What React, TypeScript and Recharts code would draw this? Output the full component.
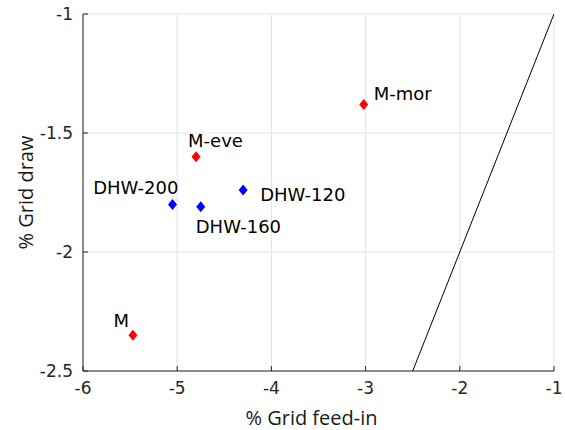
import { CartesianGrid, Scatter, ScatterChart, XAxis, YAxis } from "recharts"

// red series (M cases)
const redNames = ["M", "M-eve", "M-mor"]
const redFeedIn = [-5.47, -4.8, -3.02]
const redDraw = [-2.35, -1.6, -1.38]

// blue series (DHW cases)
const blueNames = ["DHW-200", "DHW-160", "DHW-120"]
const blueFeedIn = [-5.05, -4.75, -4.3]
const blueDraw = [-1.8, -1.81, -1.74]

// reference diagonal
const diagFeedIn = [-2.5, -1]
const diagDraw = [-2.5, -1]

const xTicks = [-6, -5, -4, -3, -2, -1]
const yTicks = [-2.5, -2, -1.5, -1]

const redData = redNames.map((name, i) => ({ name, x: redFeedIn[i], y: redDraw[i] }))
const blueData = blueNames.map((name, i) => ({ name, x: blueFeedIn[i], y: blueDraw[i] }))
const diagData = diagFeedIn.map((x, i) => ({ x, y: diagDraw[i] }))

// where each point's label sits relative to its marker
const labelPlacement: Record<string, { dx: number; dy: number; anchor: "start" | "end" }> = {
  M: { dx: -4, dy: -8, anchor: "end" },
  "M-eve": { dx: -8, dy: -10, anchor: "start" },
  "M-mor": { dx: 10, dy: -4, anchor: "start" },
  "DHW-200": { dx: 6, dy: -10, anchor: "end" },
  "DHW-160": { dx: -5, dy: 26, anchor: "start" },
  "DHW-120": { dx: 17, dy: 11, anchor: "start" },
}

const axisColor = "#262626"
const tickFont = "'DejaVu Sans', sans-serif"
const labelFont = "'Open Sans', sans-serif"

const makeDiamond = (color: string) => (props: any) => {
  const { cx, cy, payload } = props
  const p = labelPlacement[payload.name]
  return (
    <g>
      <polygon
        points={`${cx},${cy - 5.5} ${cx + 4.5},${cy} ${cx},${cy + 5.5} ${cx - 4.5},${cy}`}
        fill={color}
      />
      {p && (
        <text
          x={cx + p.dx}
          y={cy + p.dy}
          textAnchor={p.anchor}
          fontFamily={tickFont}
          fontSize={18}
          fill="#000"
        >
          {payload.name}
        </text>
      )}
    </g>
  )
}

const XTick = (props: any) => {
  const { x, y, payload } = props
  return (
    <g>
      <line x1={x} y1={y} x2={x} y2={y - 5} stroke={axisColor} />
      <text x={x} y={y + 23} textAnchor="middle" fontFamily={tickFont} fontSize={17} fill={axisColor}>
        {payload.value}
      </text>
    </g>
  )
}

const YTick = (props: any) => {
  const { x, y, payload } = props
  return (
    <g>
      <line x1={x} y1={y} x2={x + 5} y2={y} stroke={axisColor} />
      <text x={x - 10} y={y + 6} textAnchor="end" fontFamily={tickFont} fontSize={17} fill={axisColor}>
        {payload.value}
      </text>
    </g>
  )
}

const XLabel = (props: any) => {
  const { x, y, width } = props.viewBox
  return (
    <text x={x + width / 2 - 7} y={y + 54} textAnchor="middle" fontFamily={labelFont} fontSize={20} fill="#1a1a1a">
      % Grid feed-in
    </text>
  )
}

const YLabel = (props: any) => {
  const { x, y, height } = props.viewBox
  const cx = x + 25
  const cy = y + height / 2
  return (
    <text
      x={cx}
      y={cy}
      transform={`rotate(-90 ${cx} ${cy})`}
      textAnchor="middle"
      dominantBaseline="central"
      fontFamily={labelFont}
      fontSize={20}
      fill="#1a1a1a"
    >
      % Grid draw
    </text>
  )
}

export default function App() {
  return (
    <div style={{ position: "absolute", left: 0, top: 0, background: "#fff" }}>
      <ScatterChart width={565} height={430} margin={{ top: 14, right: 11, bottom: 0, left: 0 }}>
        <CartesianGrid stroke="#e3e3e3" />
        <XAxis
          type="number"
          dataKey="x"
          domain={[-6, -1]}
          ticks={xTicks}
          allowDataOverflow
          height={59}
          tickSize={0}
          tickMargin={0}
          tick={<XTick />}
          tickLine={false}
          axisLine={{ stroke: axisColor }}
          label={<XLabel />}
        />
        <YAxis
          type="number"
          dataKey="y"
          domain={[-2.5, -1]}
          ticks={yTicks}
          allowDataOverflow
          width={83}
          tickSize={0}
          tickMargin={0}
          tick={<YTick />}
          tickLine={false}
          axisLine={{ stroke: axisColor }}
          label={<YLabel />}
        />
        <Scatter
          data={diagData}
          line={{ stroke: "#000", strokeWidth: 1 }}
          shape={() => <g />}
          isAnimationActive={false}
        />
        <Scatter data={redData} shape={makeDiamond("#ff0000")} isAnimationActive={false} />
        <Scatter data={blueData} shape={makeDiamond("#0000ff")} isAnimationActive={false} />
      </ScatterChart>
    </div>
  )
}
